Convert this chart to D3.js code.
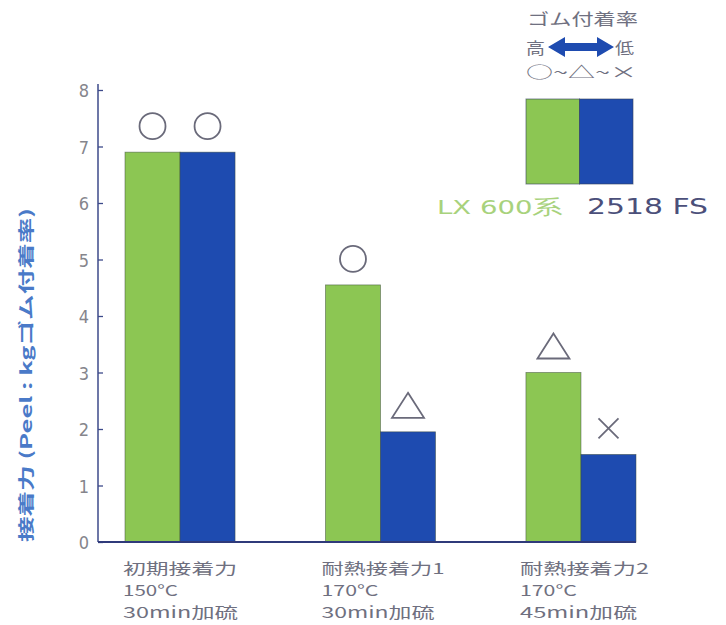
<!DOCTYPE html>
<html><head><meta charset="utf-8">
<script src="https://cdn.jsdelivr.net/npm/d3@7"></script>
<style>body{margin:0;background:#fff}svg{display:block}</style>
</head><body>
<script>
const categories = [["初期接着力","150°C","30min加硫"],["耐熱接着力1","170°C","30min加硫"],["耐熱接着力2","170°C","45min加硫"]];
const catKeys = ["c1","c2","c3"];
const seriesNames = ["LX 600系","2518 FS"];
const lxValues = [6.9, 4.55, 3.0];
const fsValues = [6.9, 1.95, 1.55];
const lxGrades = ["○","○","△"];
const fsGrades = ["○","△","×"];
const yTicks = [0,1,2,3,4,5,6,7,8];

const W=726,H=625;
const green="#8cc653", blue="#1e4bb0", grey="#6f7080";
const svg=d3.select("body").append("svg").attr("width",W).attr("height",H);
const font="'DejaVu Sans Condensed','DejaVu Sans',sans-serif";
const cjk="'Noto Sans CJK JP','Noto Sans',sans-serif";

const y=d3.scaleLinear().domain([0,8]).range([542,90]);
const x0=d3.scaleBand().domain(catKeys).range([125,636]).paddingInner(0.451).paddingOuter(0);
const x1=d3.scaleBand().domain(seriesNames).range([0,x0.bandwidth()]);

const data=catKeys.map((k,i)=>({k,vals:[{s:seriesNames[0],v:lxValues[i],g:lxGrades[i],c:green},{s:seriesNames[1],v:fsValues[i],g:fsGrades[i],c:blue}]}));

// bars
svg.append("g").selectAll("g.grp").data(data).join("g").attr("class","grp")
 .attr("transform",d=>`translate(${x0(d.k)},0)`)
 .selectAll("rect").data(d=>d.vals).join("rect")
 .attr("x",d=>x1(d.s)).attr("width",x1.bandwidth())
 .attr("y",d=>y(d.v)).attr("height",d=>y(0)-y(d.v))
 .attr("fill",d=>d.c).attr("stroke","#3a4a3a").attr("stroke-width",0.8).attr("stroke-opacity",0.6);

// grade symbols
const sym=svg.append("g").attr("fill","none").attr("stroke","#6a6a7a").attr("stroke-width",1.8);
data.forEach(d=>d.vals.forEach(v=>{
  const cx=x0(d.k)+x1(v.s)+x1.bandwidth()/2, cy=y(v.v)-26;
  if(v.g==="○") sym.append("circle").attr("cx",cx).attr("cy",cy).attr("r",13);
  else if(v.g==="△") sym.append("path").attr("d",`M${cx},${cy-13}L${cx+16},${cy+12}L${cx-16},${cy+12}Z`);
  else sym.append("path").attr("d",`M${cx-10},${cy-10}L${cx+10},${cy+10}M${cx+10},${cy-10}L${cx-10},${cy+10}`);
}));

// y axis
const ax=svg.append("g").attr("transform","translate(98,0)")
 .call(d3.axisRight(y).tickValues(yTicks).tickSize(5).tickFormat(""));
ax.select(".domain").attr("stroke","#3d4a8a").attr("stroke-width",1.5).attr("d","M0,84V542");
ax.selectAll(".tick line").attr("stroke","#3d4a8a").attr("stroke-width",1.3);
svg.append("g").selectAll("text").data(yTicks).join("text")
 .attr("x",89).attr("y",d=>y(d)+7).attr("text-anchor","end")
 .attr("font-family",font).attr("font-size",18).attr("fill","#85858c").text(d=>d);
// x baseline
svg.append("line").attr("x1",98).attr("x2",636).attr("y1",542).attr("y2",542).attr("stroke","#2f3a7a").attr("stroke-width",2);

// category labels
const lineW=[[114,55,115],[123,57,113],[129,57,117]];
const cl=svg.append("g");
categories.forEach((lines,i)=>{
  lines.forEach((l,j)=>cl.append("text").attr("x",x0(catKeys[i])-2-i*2).attr("y",574+j*22)
    .attr("font-family",cjk).attr("font-size",15).attr("fill",grey)
    .attr("textLength",lineW[i][j]).attr("lengthAdjust","spacingAndGlyphs").text(l));
});

// y label
svg.append("text").attr("transform","translate(32,375) rotate(-90)").attr("text-anchor","middle")
 .attr("font-family",cjk).attr("font-size",16).attr("font-weight","bold").attr("fill","#4a7ac8")
 .attr("textLength",334).attr("lengthAdjust","spacingAndGlyphs")
 .text("接着力 (Peel : kgゴム付着率)");

// legend
const lg=svg.append("g");
const lt=(x,yy,t,w)=>lg.append("text").attr("x",x).attr("y",yy).attr("font-family",cjk).attr("font-size",16)
  .attr("fill",grey).attr("textLength",w).attr("lengthAdjust","spacingAndGlyphs").text(t);
lt(527,25,"ゴム付着率",111);
lt(526,54,"高",19);
lt(615,54,"低",19);
lt(526,78,"○~△~×",111);
lg.append("path").attr("d","M548,47L565,37L565,43L597,43L597,37L614,47L597,57L597,51L565,51L565,57Z").attr("fill",blue);
lg.selectAll("rect").data([green,blue]).join("rect")
 .attr("x",(d,i)=>526+i*53.5).attr("y",99).attr("width",53.5).attr("height",85)
 .attr("fill",d=>d).attr("stroke","#33405a").attr("stroke-width",1).attr("stroke-opacity",0.6);
lg.append("text").attr("x",437).attr("y",214).attr("font-family",font).attr("font-size",20).attr("fill","#a8d27c")
 .attr("textLength",126).attr("lengthAdjust","spacingAndGlyphs").text(seriesNames[0]);
lg.append("text").attr("x",587).attr("y",214).attr("font-family",font).attr("font-size",21).attr("fill","#4b4f7a")
 .attr("textLength",121).attr("lengthAdjust","spacingAndGlyphs").text(seriesNames[1]);
</script>
</body></html>
